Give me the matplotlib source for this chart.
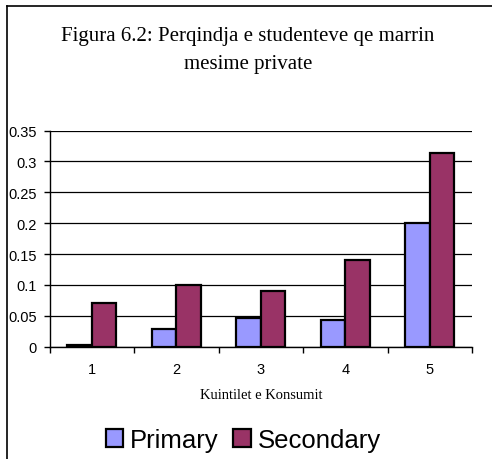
import matplotlib
matplotlib.use("Agg")
import matplotlib.pyplot as plt
import numpy as np
from matplotlib.lines import Line2D

categories = ["1", "2", "3", "4", "5"]
primary = [0.003, 0.028, 0.046, 0.043, 0.200]
secondary = [0.070, 0.100, 0.090, 0.141, 0.314]
yticks = [0, 0.05, 0.1, 0.15, 0.2, 0.25, 0.3, 0.35]
ytick_labels = ["0", "0.05", "0.1", "0.15", "0.2", "0.25", "0.3", "0.35"]
title_lines = ["Figura 6.2: Perqindja e studenteve qe marrin", "mesime private"]

fig = plt.figure(figsize=(4.92, 4.60), dpi=100)
ax = fig.add_axes([49.5/492, 1-347.7/460, (472-49.5)/492, (347.7-131.5)/460])

x = np.arange(1, len(categories) + 1)
w = 0.29
ax.bar(x - w/2, primary, w, color="#9999FF", edgecolor="black", linewidth=1.6, label="Primary", zorder=3)
ax.bar(x + w/2, secondary, w, color="#993366", edgecolor="black", linewidth=1.6, label="Secondary", zorder=3)

ax.set_xlim(0.5, 5.5)
ax.set_ylim(0, 0.35)
ax.set_yticks(yticks)
ax.set_yticklabels(ytick_labels, fontfamily="Liberation Sans", fontsize=10.5)
ax.set_xticks(x)
ax.set_xticklabels(categories, fontfamily="Liberation Sans", fontsize=10.5)
ax.set_xticks(np.arange(0.5, 6.0, 1.0), minor=True)
ax.tick_params(axis="x", which="major", length=0, pad=11)
ax.tick_params(axis="x", which="minor", length=4, direction="out", width=1)
ax.tick_params(axis="y", length=4, direction="out", width=1, pad=5)
ax.yaxis.grid(True, color="black", linewidth=0.9, zorder=0)
ax.set_axisbelow(True)
for s in ["right", "top"]:
    ax.spines[s].set_visible(False)
ax.spines["left"].set_linewidth(1)
ax.spines["bottom"].set_linewidth(1)
ax.set_xlabel("Kuintilet e Konsumit", fontfamily="Liberation Serif", fontsize=10.5, labelpad=9)

fig.text(248/492, 1-41/460, title_lines[0], ha="center", va="baseline",
         fontfamily="Liberation Serif", fontsize=15)
fig.text(248/492, 1-69/460, title_lines[1], ha="center", va="baseline",
         fontfamily="Liberation Serif", fontsize=15)

fig.legend(loc="center", bbox_to_anchor=(243/492, 1-441/460), ncol=2, frameon=False,
           prop={"family": "Liberation Sans", "size": 18.5}, handlelength=0.68, handleheight=0.68,
           handletextpad=0.25, columnspacing=0.6, borderpad=0)

# outer frame
fig.add_artist(Line2D([6.5/492, 6.5/492], [0, 1-7/460], transform=fig.transFigure, color="black", linewidth=1.2))
fig.add_artist(Line2D([6.5/492, 1], [1-7/460, 1-7/460], transform=fig.transFigure, color="black", linewidth=1.2))

fig.savefig("out.png", dpi=100)
